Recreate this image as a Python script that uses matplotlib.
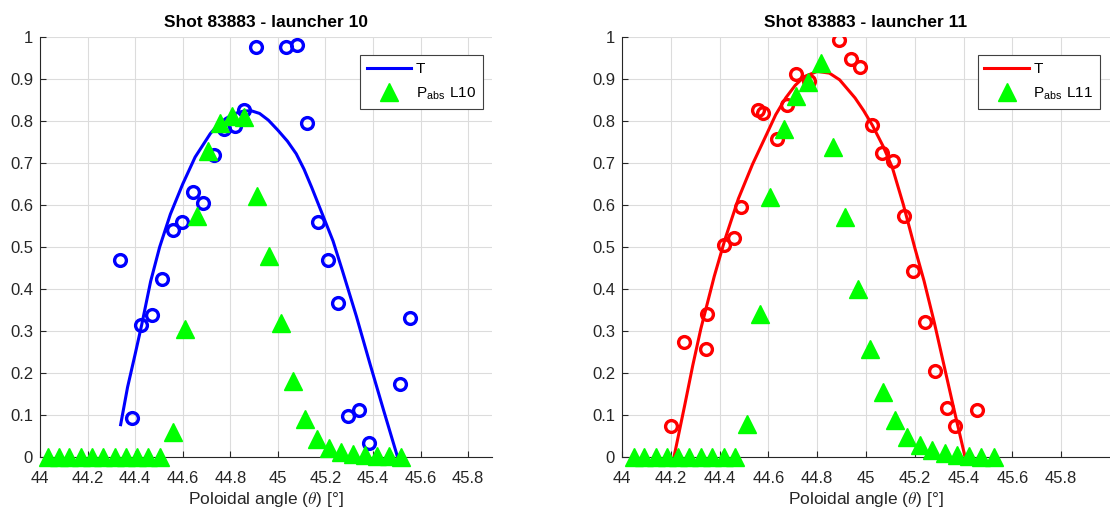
import matplotlib
matplotlib.use('Agg')
import matplotlib.pyplot as plt

plt.rcParams['font.family'] = ['Liberation Sans', 'DejaVu Sans']
plt.rcParams['mathtext.fontset'] = 'cm'

# ---- launcher 10 ----
l10_t_angle = [44.335, 44.388, 44.423, 44.470, 44.512, 44.559, 44.598, 44.643, 44.685,
               44.731, 44.773, 44.821, 44.859, 44.908, 45.036, 45.081, 45.121, 45.168,
               45.212, 45.254, 45.296, 45.342, 45.385, 45.513, 45.556]
l10_t_meas = [0.470, 0.094, 0.315, 0.338, 0.425, 0.540, 0.559, 0.630, 0.604,
              0.719, 0.782, 0.788, 0.826, 0.976, 0.976, 0.982, 0.796, 0.560,
              0.470, 0.367, 0.098, 0.111, 0.034, 0.173, 0.330]
l10_fit_angle = [44.339, 44.368, 44.400, 44.428, 44.465, 44.503, 44.548, 44.600, 44.652,
                 44.716, 44.750, 44.781, 44.820, 44.858, 44.890, 44.923, 44.960, 45.000,
                 45.040, 45.077, 45.110, 45.142, 45.187, 45.232, 45.271, 45.330, 45.387,
                 45.445, 45.503]
l10_fit = [0.077, 0.166, 0.245, 0.316, 0.418, 0.500, 0.578, 0.650, 0.714,
           0.770, 0.792, 0.806, 0.818, 0.824, 0.824, 0.818, 0.802, 0.778,
           0.752, 0.722, 0.685, 0.642, 0.578, 0.514, 0.444, 0.335, 0.222,
           0.110, 0.0]
l10_pabs_angle = [44.032, 44.078, 44.124, 44.172, 44.219, 44.266, 44.314, 44.361, 44.409,
                  44.456, 44.505, 44.559, 44.608, 44.660, 44.708, 44.757, 44.808, 44.859,
                  44.912, 44.962, 45.011, 45.064, 45.112, 45.163, 45.215, 45.265, 45.316,
                  45.367, 45.417, 45.466, 45.516]
l10_pabs = [0, 0, 0, 0, 0, 0, 0, 0, 0,
            0, 0, 0.059, 0.305, 0.575, 0.729, 0.796, 0.812, 0.810,
            0.622, 0.479, 0.319, 0.181, 0.091, 0.044, 0.021, 0.012, 0.008,
            0.005, 0.003, 0.002, 0.001]

# ---- launcher 11 ----
l11_t_angle = [44.200, 44.254, 44.344, 44.347, 44.420, 44.461, 44.486, 44.556, 44.577,
               44.635, 44.675, 44.714, 44.767, 44.890, 44.940, 44.976, 45.026, 45.064,
               45.110, 45.155, 45.193, 45.242, 45.282, 45.331, 45.365, 45.453]
l11_t_meas = [0.074, 0.274, 0.258, 0.341, 0.504, 0.522, 0.595, 0.826, 0.819,
              0.757, 0.838, 0.911, 0.896, 0.992, 0.947, 0.929, 0.790, 0.723,
              0.704, 0.575, 0.444, 0.321, 0.205, 0.116, 0.074, 0.111]
l11_fit_angle = [44.213, 44.258, 44.290, 44.323, 44.378, 44.423, 44.477, 44.535, 44.594,
                 44.630, 44.671, 44.710, 44.748, 44.800, 44.850, 44.892, 44.955, 44.990,
                 45.026, 45.070, 45.108, 45.153, 45.200, 45.238, 45.280, 45.319, 45.360,
                 45.406]
l11_fit = [0.0, 0.126, 0.218, 0.305, 0.430, 0.520, 0.615, 0.697, 0.770,
           0.815, 0.855, 0.885, 0.906, 0.918, 0.914, 0.898, 0.855, 0.825,
           0.790, 0.740, 0.689, 0.601, 0.498, 0.419, 0.320, 0.220, 0.115,
           0.0]
l11_pabs_angle = [44.048, 44.092, 44.139, 44.184, 44.229, 44.276, 44.322, 44.370, 44.418,
                  44.463, 44.514, 44.565, 44.608, 44.663, 44.713, 44.763, 44.815, 44.865,
                  44.914, 44.966, 45.018, 45.068, 45.120, 45.170, 45.220, 45.272, 45.322,
                  45.371, 45.422, 45.472, 45.524]
l11_pabs = [0, 0, 0, 0, 0, 0, 0, 0, 0,
            0, 0.079, 0.341, 0.618, 0.781, 0.860, 0.892, 0.939, 0.737,
            0.571, 0.400, 0.258, 0.155, 0.087, 0.048, 0.028, 0.016, 0.010,
            0.004, 0.002, 0.001, 0.0]

x_ticks = [44.0, 44.2, 44.4, 44.6, 44.8, 45.0, 45.2, 45.4, 45.6, 45.8]
x_tick_labels = ['44', '44.2', '44.4', '44.6', '44.8', '45', '45.2', '45.4', '45.6', '45.8']
y_ticks = [0, 0.1, 0.2, 0.3, 0.4, 0.5, 0.6, 0.7, 0.8, 0.9, 1.0]
y_tick_labels = ['0', '0.1', '0.2', '0.3', '0.4', '0.5', '0.6', '0.7', '0.8', '0.9', '1']

AX_COLOR = '#262626'


def plot_launcher(ax, title, t_angle, t_meas, fit_angle, fit, pabs_angle, pabs, color, launcher, xmax):
  ax.plot(t_angle, t_meas, 'o', color=color, mfc='none', mec=color, ms=8.5, mew=2.4, zorder=3)
  line, = ax.plot(fit_angle, fit, '-', color=color, lw=2.2, zorder=4)
  tri, = ax.plot(pabs_angle, pabs, '^', color=(0, 1, 0), mec=(0, 1, 0), ms=13.5,
                 zorder=5, clip_on=False)

  ax.set_xlim(44, xmax)
  ax.set_ylim(0, 1)
  ax.set_xticks(x_ticks)
  ax.set_xticklabels(x_tick_labels)
  ax.set_yticks(y_ticks)
  ax.set_yticklabels(y_tick_labels)
  ax.tick_params(direction='in', length=4, width=0.8, colors=AX_COLOR, labelsize=12, pad=5)
  ax.tick_params(axis='x', pad=10)
  ax.grid(True, color='#dcdcdc', lw=0.8)
  ax.set_axisbelow(True)
  for s in ['top', 'right']:
    ax.spines[s].set_visible(False)
  for s in ['left', 'bottom']:
    ax.spines[s].set_color(AX_COLOR)
    ax.spines[s].set_linewidth(0.8)

  ax.set_title(title, fontsize=12.5, fontweight='bold', pad=7)
  ax.set_xlabel(r'Poloidal angle ($\theta$) [°]', fontsize=12.5, color=AX_COLOR, labelpad=3)

  leg = ax.legend([line, tri], ['T', r'P$_{\mathregular{abs}}$ L' + launcher],
                  loc='upper right', bbox_to_anchor=(0.98, 0.957), borderaxespad=0,
                  fontsize=11, handlelength=2.9, handletextpad=0.3, labelspacing=0.6,
                  fancybox=False, framealpha=1, edgecolor='#404040', borderpad=0.45)
  leg.get_frame().set_linewidth(0.8)


fig = plt.figure(figsize=(11.1, 5.14), dpi=100)
ax1 = fig.add_axes([40 / 1110, 57 / 514, 452 / 1110, 420 / 514])
ax2 = fig.add_axes([622 / 1110, 57 / 514, 488 / 1110, 420 / 514])

plot_launcher(ax1, 'Shot 83883 - launcher 10', l10_t_angle, l10_t_meas, l10_fit_angle, l10_fit,
              l10_pabs_angle, l10_pabs, (0, 0, 1), '10', 45.9)
plot_launcher(ax2, 'Shot 83883 - launcher 11', l11_t_angle, l11_t_meas, l11_fit_angle, l11_fit,
              l11_pabs_angle, l11_pabs, (1, 0, 0), '11', 46.0)

fig.savefig('out.png', dpi=100)
